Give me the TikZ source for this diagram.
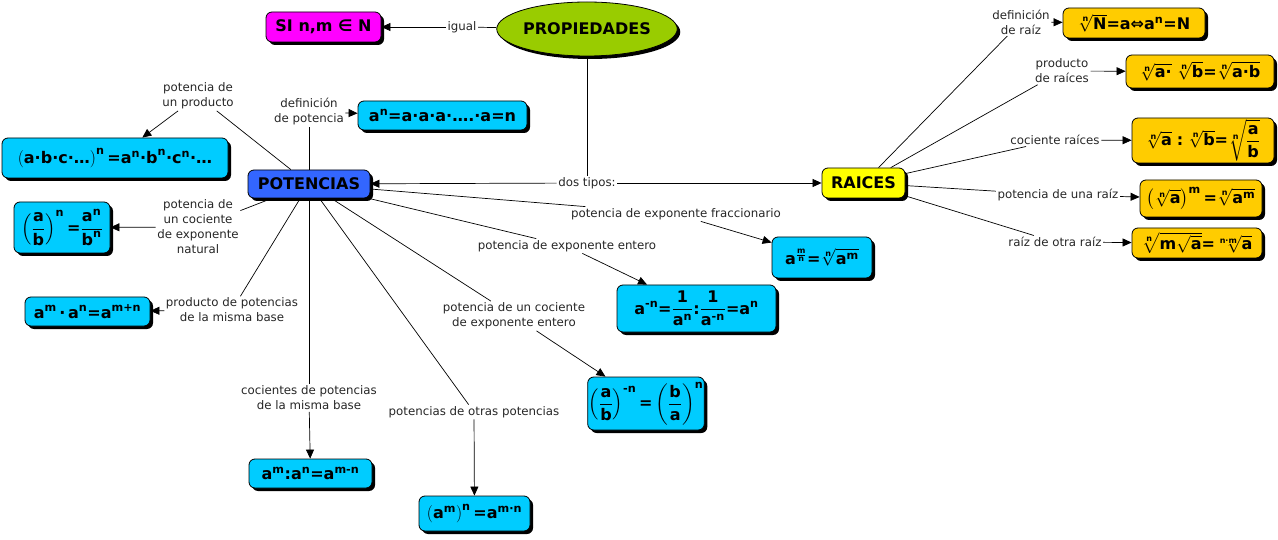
\documentclass[tikz,border=0pt]{standalone}
\usepackage{amsmath}
\usepackage{fontspec}
\setmainfont{DejaVu Sans}
\usetikzlibrary{shapes.geometric,shadows,arrows.meta}
\definecolor{cyanbox}{HTML}{00CCFF}
\definecolor{goldbox}{HTML}{FFCC00}
\definecolor{potblue}{HTML}{3366FF}
\definecolor{raiyel}{HTML}{FFFF00}
\definecolor{simag}{HTML}{FF00FF}
\definecolor{propgreen}{HTML}{99CC00}
\newcommand\mt[1]{\textbf{#1}}
\tikzset{
  shad/.style={drop shadow={shadow xshift=3pt,shadow yshift=-3pt,fill=black,opacity=1}},
  box/.style={draw=black,line width=0.8pt,rounded corners=6pt,shad,inner sep=1pt,
    font=\bfseries\fontsize{16}{18}\selectfont,align=center},
  cbox/.style={box,fill=cyanbox},
  gbox/.style={box,fill=goldbox},
  ell/.style={ellipse,draw=black,line width=0.8pt,fill=propgreen,shad,inner sep=0pt,
    font=\bfseries\fontsize{16}{18}\selectfont},
  lbl/.style={font=\fontsize{11.8}{15}\selectfont,align=center,inner sep=1.5pt,text=black!85},
  con/.style={line width=0.7pt},
  arr/.style={line width=0.7pt,-{Triangle[length=9pt,width=8pt]}}
}
\begin{document}
\begin{tikzpicture}[x=1pt,y=-1pt]
\useasboundingbox (0,0) rectangle (1278,540);
% main nodes
\node[ell,minimum width=151,minimum height=54] (prop) at (587,29) {PROPIEDADES};
\node[box,fill=simag,minimum width=115,minimum height=30] (si) at (323.5,27) {SI n,m ∈ N};
\node[box,fill=potblue,minimum width=122,minimum height=28] (pot) at (309,184) {POTENCIAS};
\node[box,fill=raiyel,minimum width=83,minimum height=30] (rai) at (863.5,183) {RAICES};
% cyan boxes
\node[cbox,minimum width=169,minimum height=29] (def) at (442.5,115.5) {a\textsuperscript{n}=a·a·a·….·a=n};
\node[cbox,minimum width=226,minimum height=40] (abc) at (115,158) {$\left(\mt{a·b·c·…}\right)^{\mt{n}}\mt{=a}^{\mt{n}}\mt{·b}^{\mt{n}}\mt{·c}^{\mt{n}}\mt{·…}$};
\node[cbox,minimum width=96,minimum height=51] (fr) at (62,227.5) {$\left(\dfrac{\mt{a}}{\mt{b}}\right)^{\mt{n}}\mt{=}\dfrac{\mt{a}^{\mt{n}}}{\mt{b}^{\mt{n}}}$};
\node[cbox,minimum width=125,minimum height=29] (mul) at (87.5,311.5) {$\mt{a}^{\mt{m}}\mt{\,·\,a}^{\mt{n}}\mt{=a}^{\mt{m+n}}$};
\node[cbox,minimum width=123,minimum height=29] (div) at (310.5,473.5) {$\mt{a}^{\mt{m}}\mt{:a}^{\mt{n}}\mt{=a}^{\mt{m-n}}$};
\node[cbox,minimum width=111,minimum height=35] (pp) at (474.5,513.5) {$\left(\mt{a}^{\mt{m}}\right)^{\mt{n}}\mt{=a}^{\mt{m·n}}$};
\node[cbox,minimum width=114,minimum height=53] (neg) at (646,403.5) {$\left(\dfrac{\mt{a}}{\mt{b}}\right)^{\mt{-n}}\mt{=}\left(\dfrac{\mt{b}}{\mt{a}}\right)^{\mt{n}}$};
\node[cbox,minimum width=159,minimum height=47] (ent) at (696.5,308.5) {$\mt{a}^{\mt{-n}}\mt{=}\dfrac{\mt{1}}{\mt{a}^{\mt{n}}}\mt{:}\dfrac{\mt{1}}{\mt{a}^{\mt{-n}}}\mt{=a}^{\mt{n}}$};
\node[cbox,minimum width=100,minimum height=41] (frc) at (822,257.5) {$\mt{a}^{\frac{\mt{m}}{\mt{n}}}\mt{=}\sqrt[\mt{n}]{\mt{a}^{\mt{m}}}$};
% gold boxes
\node[gbox,minimum width=142,minimum height=30] (r1) at (1134,23) {$\sqrt[\mt{n}]{\mt{N}}\mt{=a⇔a}^{\mt{n}}\mt{=N}$};
\node[gbox,minimum width=148,minimum height=33] (r2) at (1200,71.5) {$\sqrt[\mt{n}]{\mt{a·}}\;\sqrt[\mt{n}]{\mt{b}}\mt{=}\sqrt[\mt{n}]{\mt{a·b}}$};
\node[gbox,minimum width=142,minimum height=45] (r3) at (1203,140.5) {$\sqrt[\mt{n}]{\mt{a}}\;\mt{:}\;\sqrt[\mt{n}]{\mt{b}}\mt{=}\sqrt[\mt{n}]{\dfrac{\mt{a}}{\mt{b}}}$};
\node[gbox,minimum width=122,minimum height=37] (r4) at (1201,198.5) {$\left(\sqrt[\mt{n}]{\mt{a}}\right)^{\mt{m}}\mt{=}\sqrt[\mt{n}]{\mt{a}^{\mt{m}}}$};
\node[gbox,minimum width=130,minimum height=30] (r5) at (1197,243) {$\sqrt[\mt{n}]{\mt{m}\sqrt{\mt{a}}}\mt{=}\sqrt[\mt{n·m}]{\mt{a}}$};
% labels
\node[lbl] (ligual) at (462,27) {igual};
\node[lbl] (ldos) at (587,183) {dos tipos:};
\node[lbl] (l1) at (198,96) {potencia de\\un producto};
\node[lbl] (l2) at (309,112) {definición\\de potencia};
\node[lbl] (l3) at (198,227) {potencia de\\un cociente\\de exponente\\natural};
\node[lbl] (l4) at (232,310) {producto de potencias\\de la misma base};
\node[lbl] (l5) at (309,398) {cocientes de potencias\\de la misma base};
\node[lbl] (l6) at (474,412) {potencias de otras potencias};
\node[lbl] (l7) at (514,316) {potencia de un cociente\\de exponente entero};
\node[lbl] (l8) at (567,246) {potencia de exponente entero};
\node[lbl] (l9) at (676,214) {potencia de exponente fraccionario};
\node[lbl] (m1) at (1021,22) {definición\\de raíz};
\node[lbl] (m2) at (1062,71) {producto\\de raíces};
\node[lbl] (m3) at (1055,140) {cociente raíces};
\node[lbl] (m4) at (1058,195) {potencia de una raíz};
\node[lbl] (m5) at (1055,242) {raíz de otra raíz};
% connectors
\draw[con] (prop) -- (ligual); \draw[arr] (ligual) -- (si);
\draw[con] (prop) -- (ldos);
\draw[arr] (ldos) -- (pot); \draw[arr] (ldos) -- (rai);
\draw[con] (pot) -- (l1); \draw[arr] (l1) -- (abc);
\draw[con] (pot) -- (l2); \draw[arr] (l2) -- (def);
\draw[con] (pot) -- (l3); \draw[arr] (l3) -- (fr);
\draw[con] (pot) -- (l4); \draw[arr] (l4) -- (mul);
\draw[con] (pot) -- (l5); \draw[arr] (l5) -- (div);
\draw[con] (pot) -- (l6); \draw[arr] (l6) -- (pp);
\draw[con] (pot) -- (l7); \draw[arr] (l7) -- (neg);
\draw[con] (pot) -- (l8); \draw[arr] (l8) -- (ent);
\draw[con] (pot) -- (l9); \draw[arr] (l9) -- (frc);
\draw[con] (rai) -- (m1); \draw[arr] (m1) -- (r1);
\draw[con] (rai) -- (m2); \draw[arr] (m2) -- (r2);
\draw[con] (rai) -- (m3); \draw[arr] (m3) -- (r3);
\draw[con] (rai) -- (m4); \draw[arr] (m4) -- (r4);
\draw[con] (rai) -- (m5); \draw[arr] (m5) -- (r5);
\end{tikzpicture}
\end{document}
